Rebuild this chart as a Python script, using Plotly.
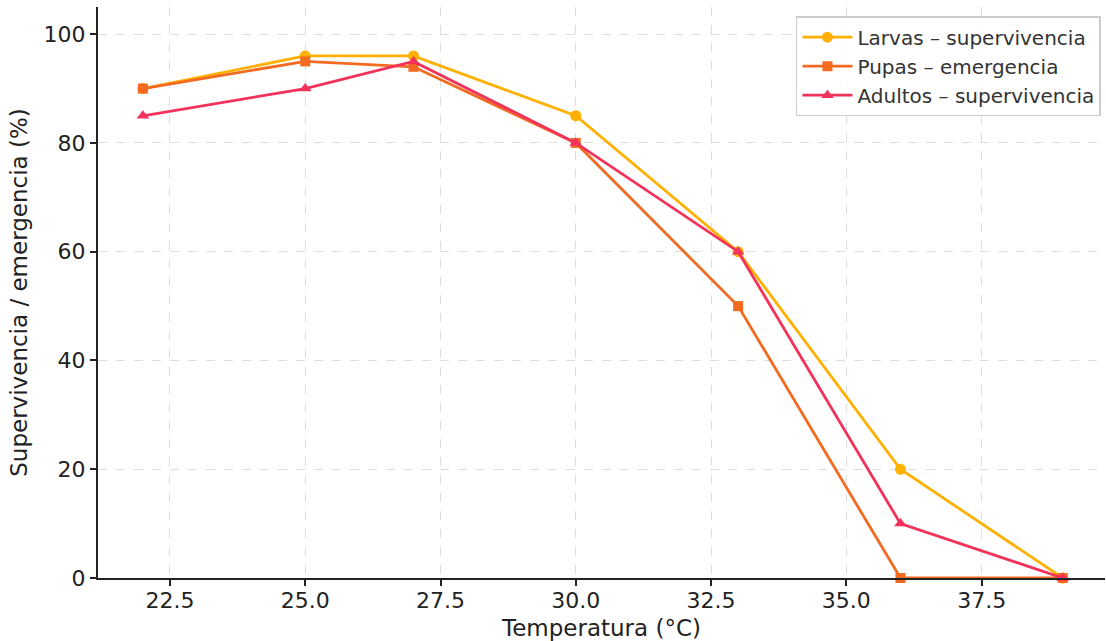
import plotly.graph_objects as go

temperatura = [22, 25, 27, 30, 33, 36, 39]
larvas = [90, 96, 96, 85, 60, 20, 0]
pupas = [90, 95, 94, 80, 50, 0, 0]
adultos = [85, 90, 95, 80, 60, 10, 0]

series = [
    ("Larvas – supervivencia", larvas, "#FFB000", "circle", 11),
    ("Pupas – emergencia", pupas, "#F26B21", "square", 10),
    ("Adultos – supervivencia", adultos, "#F2325A", "triangle-up", 11),
]

fig = go.Figure()
for name, vals, color, sym, sz in series:
    fig.add_trace(go.Scatter(
        x=temperatura, y=vals, name=name, mode="lines+markers",
        line=dict(color=color, width=2.8),
        marker=dict(symbol=sym, size=sz, color=color),
        cliponaxis=False,
    ))

font = "DejaVu Sans, sans-serif"
fig.update_layout(
    width=1106, height=641,
    margin=dict(l=98, r=1, t=7, b=63),
    paper_bgcolor="white", plot_bgcolor="white",
    font=dict(family=font, color="#222222", size=22),
    legend=dict(
        x=0.996, y=0.984, xanchor="right", yanchor="top",
        bgcolor="rgba(255,255,255,0.85)", bordercolor="#cccccc", borderwidth=1.5,
        font=dict(size=20, color="#333333"), tracegroupgap=0, itemwidth=50,
    ),
    xaxis=dict(
        range=[21.17, 39.78], tickvals=[22.5, 25, 27.5, 30, 32.5, 35, 37.5],
        ticktext=["22.5", "25.0", "27.5", "30.0", "32.5", "35.0", "37.5"],
        showline=True, linecolor="#222222", linewidth=2, mirror=False,
        ticks="outside", ticklen=6, tickwidth=1.5, tickcolor="#222222",
        ticklabelstandoff=-4,
        showgrid=True, gridcolor="#dddddd", griddash="dash", gridwidth=1,
        zeroline=False,
        title=dict(text="Temperatura (°C)", font=dict(size=23), standoff=9),
        tickfont=dict(size=22),
    ),
    yaxis=dict(
        range=[0, 105], tickvals=[0, 20, 40, 60, 80, 100],
        showline=True, linecolor="#222222", linewidth=2, mirror=False,
        ticks="outside", ticklen=6, tickwidth=1.5, tickcolor="#222222",
        showgrid=True, gridcolor="#dddddd", griddash="dash", gridwidth=1,
        zeroline=False,
        title=dict(text="Supervivencia / emergencia (%)", font=dict(size=23), standoff=10),
        tickfont=dict(size=22),
    ),
)

fig.write_html("out.html", config={"displayModeBar": False},
               post_script="document.body.style.margin='0px';")
